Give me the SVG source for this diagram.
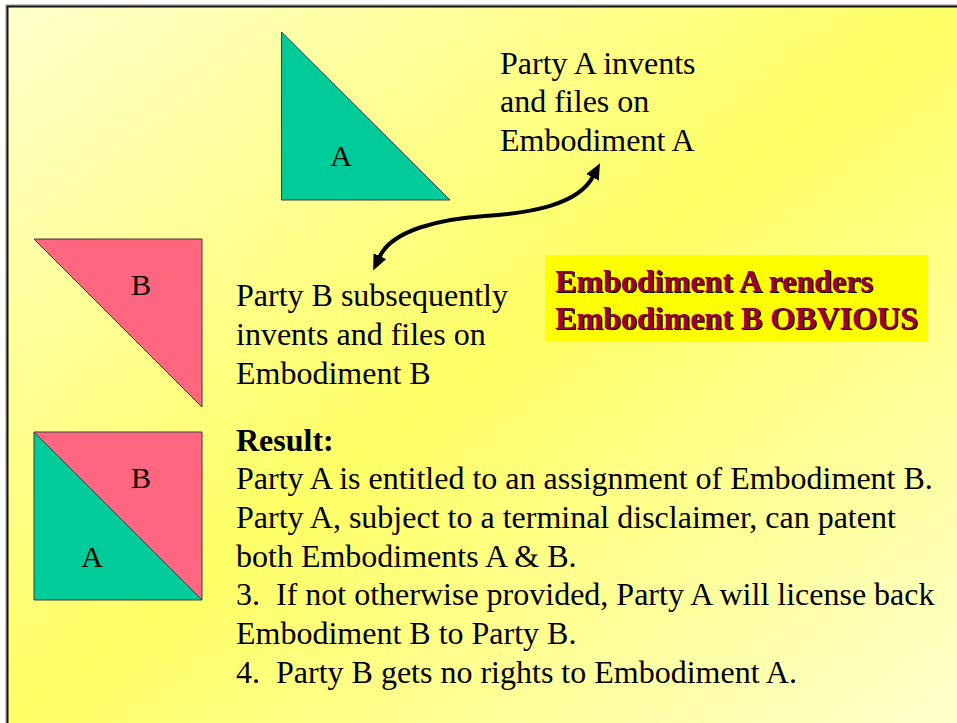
<svg xmlns="http://www.w3.org/2000/svg" width="957" height="723" viewBox="0 0 957 723">
  <defs>
    <linearGradient id="bg" x1="0" y1="0" x2="1" y2="1">
      <stop offset="0" stop-color="#ffffcc"/>
      <stop offset="0.5" stop-color="#ffff66"/>
      <stop offset="1" stop-color="#ffffcc"/>
    </linearGradient>
    <marker id="head" viewBox="0 0 16 14" refX="1" refY="7" markerWidth="16" markerHeight="14" markerUnits="userSpaceOnUse" orient="auto-start-reverse">
      <path d="M0,0 L16,7 L0,14 Z" fill="#000"/>
    </marker>
  </defs>
  <style>
    .txt { font-family: "Liberation Serif", "Times New Roman", serif; font-size: 32px; fill: #000; }
    .lbl { font-family: "Liberation Serif", "Times New Roman", serif; font-size: 30px; fill: #000; text-anchor: middle; }
    .bold { font-family: "Liberation Serif", "Times New Roman", serif; font-size: 32px; font-weight: bold; }
    .green { fill: #00cc99; stroke: #3a3a3a; stroke-width: 1; }
    .pink { fill: #ff6680; stroke: #3a3a3a; stroke-width: 1; }
  </style>

  <rect x="0" y="0" width="957" height="723" fill="#ffffff"/>
  <rect id="slide" x="7" y="6" width="950" height="717" fill="url(#bg)"/>
  <path d="M6,723 L6,5 L957,5" fill="none" stroke="#888" stroke-width="1"/>
  <path d="M7.5,723 L7.5,6.5 L957,6.5" fill="none" stroke="#111" stroke-width="2"/>

  <g id="triangle-a">
    <polygon class="green" points="281.5,32 281.5,200 450,200"/>
    <text class="lbl" x="341" y="166">A</text>
  </g>

  <g id="text-party-a">
    <text class="txt" x="500" y="74">Party A invents</text>
    <text class="txt" x="500" y="112">and files on</text>
    <text class="txt" x="500" y="151">Embodiment A</text>
  </g>

  <g id="triangle-b">
    <polygon class="pink" points="34,239 202,239 202,407"/>
    <text class="lbl" x="141" y="295">B</text>
  </g>

  <g id="text-party-b">
    <text class="txt" x="236" y="306">Party B subsequently</text>
    <text class="txt" x="236" y="345">invents and files on</text>
    <text class="txt" x="236" y="384">Embodiment B</text>
  </g>

  <g id="obvious-box">
    <rect x="545" y="255" width="383" height="87" fill="#ffff00"/>
    <text class="bold" fill="#000" x="556.2" y="293.2">Embodiment A renders</text>
    <text class="bold" fill="#000" x="556.2" y="330.2">Embodiment B OBVIOUS</text>
    <text class="bold" fill="#990033" x="555" y="292">Embodiment A renders</text>
    <text class="bold" fill="#990033" x="555" y="329">Embodiment B OBVIOUS</text>
  </g>

  <g id="square-ab">
    <polygon class="pink" points="34,432 202,432 202,600"/>
    <polygon class="green" points="34,432 34,600 202,600"/>
    <text class="lbl" x="141" y="488">B</text>
    <text class="lbl" x="92" y="567">A</text>
  </g>

  <g id="text-result" xml:space="preserve">
    <text class="txt" font-weight="bold" x="236" y="451">Result:</text>
    <text class="txt" x="236" y="489">Party A is entitled to an assignment of Embodiment B.</text>
    <text class="txt" x="236" y="528">Party A, subject to a terminal disclaimer, can patent</text>
    <text class="txt" x="236" y="567">both Embodiments A &amp; B.</text>
    <text class="txt" x="236" y="605" style="white-space:pre">3.  If not otherwise provided, Party A will license back</text>
    <text class="txt" x="236" y="644">Embodiment B to Party B.</text>
    <text class="txt" x="236" y="683" style="white-space:pre">4.  Party B gets no rights to Embodiment A.</text>
  </g>

  <g id="connectors">
    <path d="M379.5,257 C392,230 440,219 485,216 C530,213 578,205 593,176.5" fill="none" stroke="#000" stroke-width="4" marker-start="url(#head)" marker-end="url(#head)"/>
  </g>
</svg>
